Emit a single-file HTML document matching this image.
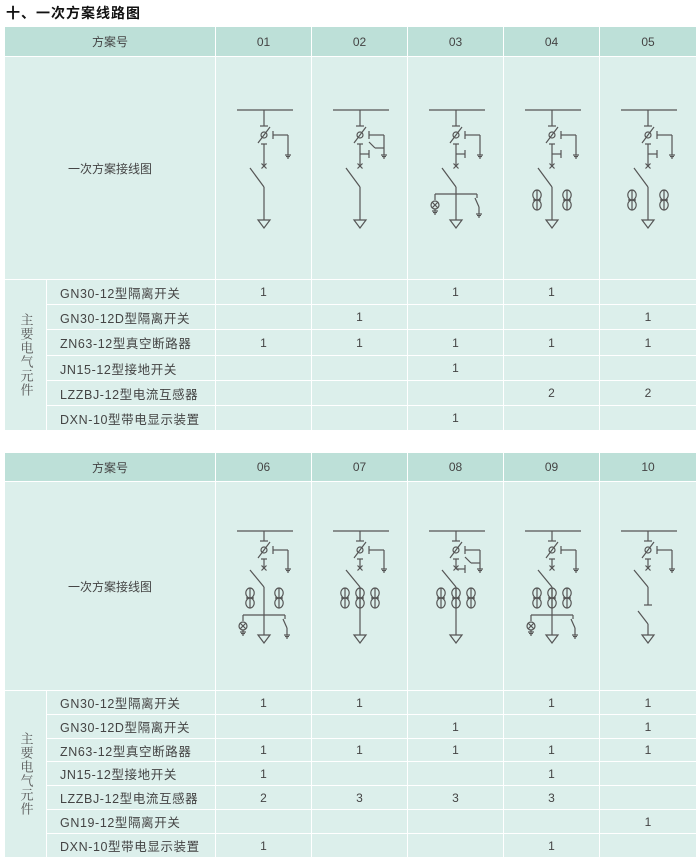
<!DOCTYPE html>
<html><head><meta charset="utf-8"><style>
body{margin:0;width:700px;height:864px;background:#fff;position:relative;overflow:hidden;font-family:"Liberation Sans","Noto Sans CJK SC",sans-serif;}
.c{position:absolute;box-sizing:border-box;display:flex;align-items:center;justify-content:center;color:#444;font-size:12px;}
.h{background:#bde0d8;}
.b{background:#dcefeb;}
.l{justify-content:flex-start;padding-left:13px;font-size:12.5px;letter-spacing:0.6px;}
.t{position:absolute;left:6px;top:3px;font-size:14px;font-weight:bold;color:#111;font-family:"Liberation Sans","Noto Sans CJK SC",sans-serif;letter-spacing:1px}
.v{writing-mode:vertical-rl;font-family:"Liberation Serif","Noto Serif CJK SC",serif;font-size:13px;color:#555;line-height:14px;letter-spacing:1px}
svg{position:absolute;left:0;top:0}
</style></head><body>
<div class="t">十、一次方案线路图</div>
<div id="root"></div>
<svg id="sv" width="700" height="864"></svg>
<script>
var root=document.getElementById('root');
var X=[5,216,312,408,504,600,697];
function cell(x,y,w,h,cls,txt){var d=document.createElement('div');d.className='c '+cls;d.style.left=x+'px';d.style.top=y+'px';d.style.width=w+'px';d.style.height=h+'px';d.textContent=txt||'';root.appendChild(d);}
function table(y0,hh,dh,rows,labels,ids,vals){
 cell(X[0],y0,X[1]-X[0]-1,hh,'h','方案号');
 for(var i=0;i<5;i++)cell(X[i+1],y0,X[i+2]-X[i+1]-1,hh,'h',ids[i]);
 var y1=y0+hh+1;
 cell(X[0],y1,X[1]-X[0]-1,dh,'b','一次方案接线图');
 for(var i=0;i<5;i++)cell(X[i+1],y1,X[i+2]-X[i+1]-1,dh,'b','');
 var y2=y1+dh+1;
 var rh=rows;
 var n=labels.length;
 var tot=rh*n;
 var d=document.createElement('div');d.className='c b';d.style.left=X[0]+'px';d.style.top=y2+'px';d.style.width=(41)+'px';d.style.height=(tot-1)+'px';
 var s=document.createElement('span');s.className='v';s.textContent='主要电气元件';d.appendChild(s);root.appendChild(d);
 for(var r=0;r<n;r++){
  var y=Math.round(y2+r*rh),yn=Math.round(y2+(r+1)*rh);
  cell(47,y,X[1]-47-1,yn-y-1,'b l',labels[r]);
  for(var i=0;i<5;i++)cell(X[i+1],y,X[i+2]-X[i+1]-1,yn-y-1,'b',vals[r][i]);
 }
}
table(27,29,222,25.2,['GN30-12型隔离开关','GN30-12D型隔离开关','ZN63-12型真空断路器','JN15-12型接地开关','LZZBJ-12型电流互感器','DXN-10型带电显示装置'],['01','02','03','04','05'],
[['1','','1','1',''],['','1','','','1'],['1','1','1','1','1'],['','','1','',''],['','','','2','2'],['','','1','','']]);
table(453,28,208,23.8,['GN30-12型隔离开关','GN30-12D型隔离开关','ZN63-12型真空断路器','JN15-12型接地开关','LZZBJ-12型电流互感器','GN19-12型隔离开关','DXN-10型带电显示装置'],['06','07','08','09','10'],
[['1','1','','1','1'],['','','1','','1'],['1','1','1','1','1'],['1','','','1',''],['2','3','3','3',''],['','','','','1'],['1','','','1','']]);

var S='';
function L(a,b,c,d){S+='<line x1="'+a+'" y1="'+b+'" x2="'+c+'" y2="'+d+'"/>';}
function C(x,y,r){S+='<circle cx="'+x+'" cy="'+y+'" r="'+r+'" fill="none"/>';}
function E(x,y,rx,ry){S+='<ellipse cx="'+x+'" cy="'+y+'" rx="'+rx+'" ry="'+ry+'" fill="none"/>';}
function G(x,y){L(x,y,x,y+2);L(x-3,y+2,x+3,y+2);L(x-2,y+3.5,x+2,y+3.5);L(x-1,y+5,x+1,y+5);}
function CT(x,y){E(x,y,4.2,5);E(x,y+10,4.2,5);L(x-4,y+5,x+4,y+5);L(x,y-5,x,y+15);}
function diag(cx,b,p,o){
 var c=b+p.c;
 L(cx-27,b,cx+29,b);
 L(cx,b,cx,c-9);L(cx-4,c-9,cx+4,c-9);
 L(cx-6,c+8,cx+6,c-8);C(cx,c,3);
 L(cx-3,c+9,cx+3,c+9);L(cx,c+9,cx,b+p.x);
 L(cx-2.5,b+p.x-2.5,cx+2.5,b+p.x+2.5);L(cx-2.5,b+p.x+2.5,cx+2.5,b+p.x-2.5);
 L(cx+9,c-4,cx+9,c+4);L(cx+9,c,cx+24,c);L(cx+24,c,cx+24,c+p.e);G(cx+24,c+p.e);
 if(o.es){L(cx,c+19,cx+9,c+19);L(cx+9,c+15,cx+9,c+23);if(o.es==2){L(cx+9,c+7,cx+15,c+13);L(cx+15,c+13,cx+24,c+13);}}
 L(cx-14,b+p.s1,cx,b+p.s2);
 if(o.ten){L(cx,b+p.s2,cx,b+74);L(cx-4,b+74,cx+4,b+74);L(cx-10,b+80,cx,b+93);L(cx,b+93,cx,b+p.t1);}
 else L(cx,b+p.s2,cx,b+p.t1);
 S+='<polygon points="'+(cx-6)+','+(b+p.t1)+' '+(cx+6)+','+(b+p.t1)+' '+cx+','+(b+p.t1+8)+'" fill="none"/>';
 (o.ct||[]).forEach(function(dx){CT(cx+dx,b+p.ct);});
 if(o.bar){var y=b+p.bar;L(cx-21,y,cx+21,y);
  L(cx-21,y,cx-21,y+6);C(cx-21,y+11,4);L(cx-24,y+8,cx-18,y+14);L(cx-24,y+14,cx-18,y+8);G(cx-21,y+15);
  L(cx+21,y,cx+21,y+4);L(cx+19,y+4,cx+23,y+13);L(cx+23,y+13,cx+23,y+18);G(cx+23,y+18);}
}
var p1={c:25,x:56,e:18,s1:58,s2:77,t1:110,ct:85,bar:84};
var p2={c:19,x:37,e:17,s1:39,s2:56,t1:104,ct:62,bar:84};
var cx=[264,360,456,552,648];
diag(cx[0],110,p1,{});
diag(cx[1],110,p1,{es:2});
diag(cx[2],110,p1,{es:1,bar:1});
diag(cx[3],110,p1,{es:1,ct:[-15,15]});
diag(cx[4],110,p1,{es:1,ct:[-16,16]});
diag(cx[0],531,p2,{ct:[-14,15],bar:1});
diag(cx[1],531,p2,{ct:[-15,0,15]});
diag(cx[2],531,p2,{es:2,ct:[-15,0,15]});
diag(cx[3],531,p2,{ct:[-15,0,15],bar:1});
diag(cx[4],531,p2,{ten:1});
var sv=document.getElementById('sv');
sv.innerHTML='<g stroke="#555" stroke-width="1.2" fill="none">'+S+'</g>';
</script>
</body></html>
